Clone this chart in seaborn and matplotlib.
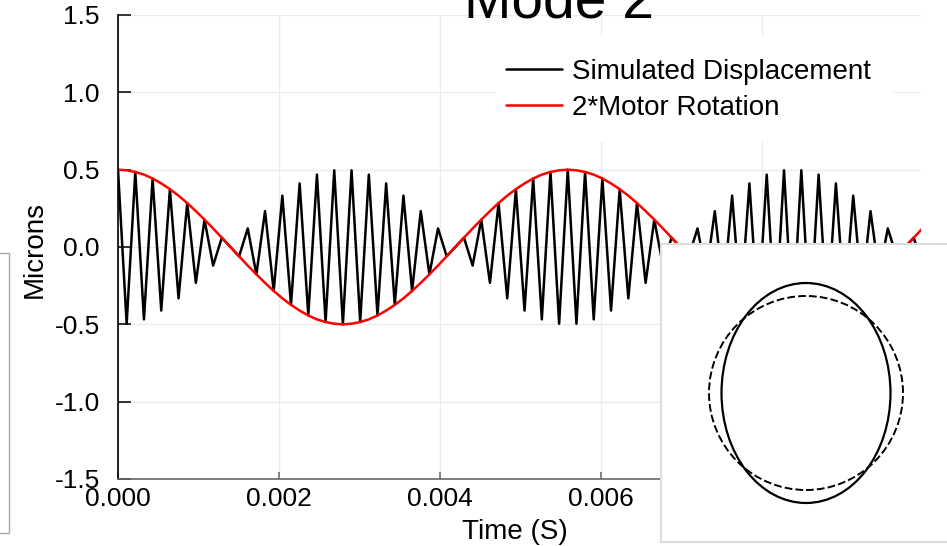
import numpy as np
import seaborn as sns
import matplotlib
matplotlib.use("Agg")
import matplotlib.pyplot as plt
from matplotlib.patches import Circle, Ellipse, Rectangle

# values, one sample per half carrier cycle
sample_step = 0.0001075   # seconds between samples
displacement = [
    0.500, -0.496, 0.485, -0.468, 0.443, -0.411, 0.374, -0.332, 0.284, -0.232,
    0.177, -0.120, 0.060, 0.000, -0.060, 0.120, -0.177, 0.232, -0.284, 0.332,
    -0.374, 0.411, -0.443, 0.468, -0.485, 0.496, -0.500, 0.496, -0.485, 0.468,
    -0.443, 0.411, -0.374, 0.332, -0.284, 0.232, -0.177, 0.120, -0.060, 0.000,
    0.060, -0.120, 0.177, -0.232, 0.284, -0.332, 0.374, -0.411, 0.443, -0.468,
    0.485, -0.496, 0.500, -0.496, 0.485, -0.468, 0.443, -0.411, 0.374, -0.332,
    0.284, -0.232, 0.177, -0.120, 0.060, 0.000, -0.060, 0.120, -0.177, 0.232,
    -0.284, 0.332, -0.374, 0.411, -0.443, 0.468, -0.485, 0.496, -0.500, 0.496,
    -0.485, 0.468, -0.443, 0.411, -0.374, 0.332, -0.284, 0.232, -0.177, 0.120,
    -0.060, 0.000, 0.060, -0.120,
]
motor_rotation = [
    0.500, 0.496, 0.485, 0.468, 0.443, 0.411, 0.374, 0.332, 0.284, 0.232,
    0.177, 0.120, 0.060, 0.000, -0.060, -0.120, -0.177, -0.232, -0.284, -0.332,
    -0.374, -0.411, -0.443, -0.468, -0.485, -0.496, -0.500, -0.496, -0.485, -0.468,
    -0.443, -0.411, -0.374, -0.332, -0.284, -0.232, -0.177, -0.120, -0.060, 0.000,
    0.060, 0.120, 0.177, 0.232, 0.284, 0.332, 0.374, 0.411, 0.443, 0.468,
    0.485, 0.496, 0.500, 0.496, 0.485, 0.468, 0.443, 0.411, 0.374, 0.332,
    0.284, 0.232, 0.177, 0.120, 0.060, 0.000, -0.060, -0.120, -0.177, -0.232,
    -0.284, -0.332, -0.374, -0.411, -0.443, -0.468, -0.485, -0.496, -0.500, -0.496,
    -0.485, -0.468, -0.443, -0.411, -0.374, -0.332, -0.284, -0.232, -0.177, -0.120,
    -0.060, 0.000, 0.060, 0.120,
]
time = np.arange(len(displacement)) * sample_step

x_ticks = [0.000, 0.002, 0.004, 0.006, 0.008]
y_ticks = [-1.5, -1.0, -0.5, 0.0, 0.5, 1.0, 1.5]

# mode shape in the inset (ring radius 1)
ring_radius = 1.0
mode_width = 1.742
mode_height = 2.268

sns.set_style("white")
plt.rcParams['font.family'] = ['Liberation Sans', 'DejaVu Sans']
plt.rcParams['text.color'] = "black"
plt.rcParams['axes.labelcolor'] = "black"
plt.rcParams['xtick.color'] = "black"
plt.rcParams['ytick.color'] = "black"

W, H = 947, 546
fig = plt.figure(figsize=(W / 100, H / 100), dpi=100)
ax = fig.add_axes([118 / W, 1 - 479 / H, 803 / W, 464 / H])

sns.lineplot(x=time, y=displacement, ax=ax, color="black", linewidth=1.8,
             label="Simulated Displacement", estimator=None, sort=False)
sns.lineplot(x=time, y=motor_rotation, ax=ax, color="#ff0000", linewidth=1.8,
             label="2*Motor Rotation", estimator=None, sort=False)

ax.set_xlim(0, 0.00998)
ax.set_ylim(-1.5, 1.5)
ax.set_xticks(x_ticks)
ax.set_xticklabels([f"{v:.3f}" for v in x_ticks])
ax.set_yticks(y_ticks)
ax.set_yticklabels([f"{v:.1f}" for v in y_ticks])
ax.grid(True, color="#ebebeb", linewidth=1)
ax.set_axisbelow(True)
for s in ["top", "right"]:
    ax.spines[s].set_visible(False)
ax.spines["left"].set_color("black")
ax.spines["left"].set_linewidth(1.2)
ax.spines["bottom"].set_color("#666666")
ax.spines["bottom"].set_linewidth(1.2)
ax.tick_params(axis="y", direction="in", length=9, width=1.1, color="black",
               labelcolor="black", labelsize=19, pad=13, left=True)
ax.tick_params(axis="x", direction="in", length=5, width=1.1, color="#666666",
               labelcolor="black", labelsize=19, pad=6, bottom=True)

ax.set_xlabel("Time (S)", fontsize=20, color="black")
ax.xaxis.set_label_coords((515 - 118) / 803, (479 - 519) / 464)
ax.set_ylabel("Microns", fontsize=20, color="black")
ax.yaxis.set_label_coords((48 - 118) / 803, (479 - 250) / 464)

# white block behind the legend
ax.add_patch(Rectangle((495 / W, 1 - 142 / H), 398 / W, 107 / H,
                       transform=fig.transFigure, facecolor="white",
                       edgecolor="none", zorder=1, clip_on=False))
leg = ax.legend(loc="upper left", bbox_to_anchor=(506 / W, 1 - 59 / H),
                bbox_transform=fig.transFigure, frameon=False, fontsize=20,
                handlelength=2.0, handletextpad=0.36, borderpad=0,
                borderaxespad=0, labelspacing=0.36)
for t in leg.get_texts():
    t.set_color("black")

fig.text(559 / W, 1 - 17 / H, "Mode 2", ha="center", va="baseline",
         fontsize=41, color="black")

# box cut off at the left edge
fig.patches.append(Rectangle((-20 / W, 1 - 533 / H), 29 / W, 280 / H,
                             transform=fig.transFigure, facecolor="none",
                             edgecolor="#a8a8a8", linewidth=1))

# inset with the mode shape
ins = fig.add_axes([660.7 / W, 1 - 541.7 / H, 289.3 / W, 297.7 / H])
ins.set_facecolor("white")
ins.set_xticks([])
ins.set_yticks([])
for s in ins.spines.values():
    s.set_color("#dddddd")
    s.set_linewidth(1.5)
ins.add_patch(Circle((0, 0), ring_radius, fill=False, edgecolor="black",
                     linewidth=1.4, linestyle=(0, (4, 1.6))))
ins.add_patch(Ellipse((0, 0), mode_width, mode_height, fill=False,
                      edgecolor="black", linewidth=1.6))
ins.set_xlim(-145.3 / 97, 144.0 / 97)
ins.set_ylim(-148.7 / 97, 149.0 / 97)

fig.savefig("out.png", dpi=100)
